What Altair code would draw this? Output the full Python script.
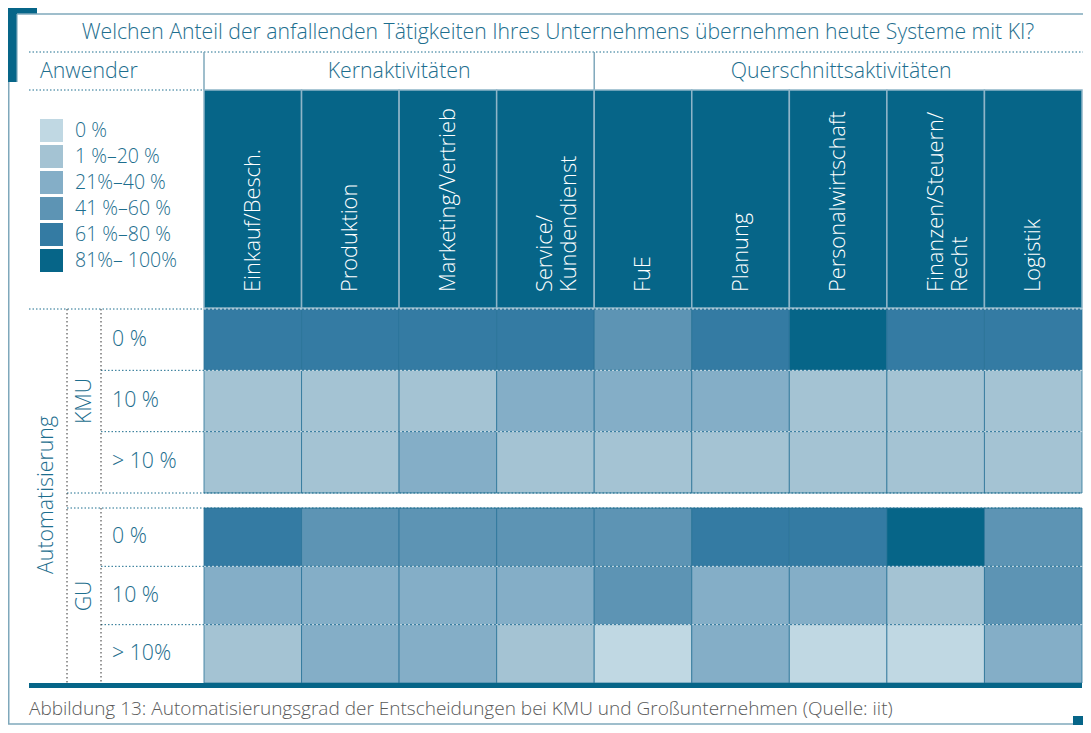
import altair as alt
import pandas as pd

# ---------------- data ----------------
TITLE = "Welchen Anteil der anfallenden Tätigkeiten Ihres Unternehmens übernehmen heute Systeme mit KI?"
CAPTION = "Abbildung 13: Automatisierungsgrad der Entscheidungen bei KMU und Großunternehmen (Quelle: iit)"
HEAD_LEFT = "Anwender"
groups = ["Kernaktivitäten", "Querschnittsaktivitäten"]
side_title = "Automatisierung"
companies = ["KMU", "GU"]

columns = ["Einkauf/Besch.", "Produktion", "Marketing/Vertrieb", "Service/Kundendienst", "FuE",
           "Planung", "Personalwirtschaft", "Finanzen/Steuern/Recht", "Logistik"]
column_labels = ["Einkauf/Besch.", "Produktion", "Marketing/Vertrieb", "Service/\nKundendienst", "FuE",
                 "Planung", "Personalwirtschaft", "Finanzen/Steuern/\nRecht", "Logistik"]

rows_kmu = ["0 %", "10 %", "> 10 %"]
rows_gu = ["0 %", "10 %", "> 10%"]

levels = ["0 %", "1 %–20 %", "21%–40 %", "41 %–60 %", "61 %–80 %", "81%– 100%"]
level_colors = ["#c0d8e3", "#a4c3d3", "#84aec7", "#5d94b4", "#347ba3", "#066588"]

# level index (0..5) per row, per column
kmu_levels = [
    [4, 4, 4, 4, 3, 4, 5, 4, 4],
    [1, 1, 1, 2, 2, 2, 1, 1, 1],
    [1, 1, 2, 1, 1, 1, 1, 1, 1],
]
gu_levels = [
    [4, 3, 3, 3, 3, 4, 4, 5, 3],
    [2, 2, 2, 2, 3, 2, 2, 1, 3],
    [1, 2, 2, 1, 0, 2, 0, 0, 2],
]

# ---------------- styling ----------------
TEAL = "#1d6e8e"
DARK = "#066588"
LINE = "#7fa8bb"
FONT = "Open Sans"
FW = 300
FS = 21.3
W, H = 1075, 717

def P(v):  # page pixel -> chart pixel
    return v - 8

X_LEFT, X_RIGHT = P(204), P(1082)
KMU_RANGE = [P(309), P(493)]
GU_RANGE = [P(508), P(683)]

def cells_df(rows, lv):
    recs = []
    for r, row in enumerate(rows):
        for c, col in enumerate(columns):
            recs.append({"row": row, "col": col, "level": levels[lv[r][c]]})
    return pd.DataFrame(recs)

x_enc = alt.X("col:N", scale=alt.Scale(domain=columns, range=[X_LEFT, X_RIGHT], paddingInner=0, paddingOuter=0), axis=None)
color_enc = alt.Color("level:N", scale=alt.Scale(domain=levels, range=level_colors),
                      legend=alt.Legend(orient="none", legendX=P(40), legendY=P(119), title=None,
                                        symbolType="square", symbolSize=529, symbolStrokeWidth=0,
                                        symbolOpacity=1, labelFontSize=19.5, labelFont=FONT,
                                        labelFontWeight=FW, labelColor=TEAL, labelOffset=12,
                                        rowPadding=3, padding=0))

one = pd.DataFrame({"k": [0]})

def rule(x1, x2, y1, y2, color=LINE, width=1.0, dash=None, opacity=1.0):
    kw = dict(color=color, strokeWidth=width, opacity=opacity)
    if dash:
        kw["strokeDash"] = dash
    return alt.Chart(one).mark_rule(**kw).encode(
        x=alt.value(x1), x2=alt.value(x2), y=alt.value(y1), y2=alt.value(y2))

def box(x1, x2, y1, y2, color):
    return alt.Chart(one).mark_rect(color=color).encode(
        x=alt.value(x1), x2=alt.value(x2), y=alt.value(y1), y2=alt.value(y2))

def label(text, x, y, size=FS, color=TEAL, align="left", angle=0):
    return alt.Chart(pd.DataFrame({"t": [text]})).mark_text(
        font=FONT, fontWeight=FW, fontSize=size, color=color, align=align,
        baseline="middle", angle=angle).encode(text="t:N", x=alt.value(x), y=alt.value(y))

layers = []

# frame decoration
layers.append(box(0, 29, 0, P(82), DARK))
layers.append(box(P(17), 29, P(14), P(82), "white"))
layers.append(rule(P(17), W, P(14), P(14), LINE, 1.5))
layers.append(rule(P(17), P(17), P(14), P(82), LINE, 1.2))
layers.append(rule(0.75, 0.75, P(82), P(724), LINE, 1.5))
layers.append(rule(0, W - 10, P(724), P(724), LINE, 1.5))
layers.append(box(W - 10, W, P(716), H, DARK))

# title and header texts
layers.append(label(TITLE, P(558), P(33), size=21.2, align="center"))
layers.append(rule(P(29), W, P(52), P(52), TEAL, 1, [1.5, 2]))
layers.append(label(HEAD_LEFT, P(40), P(72)))
layers.append(rule(X_LEFT, X_LEFT, P(52), P(90), LINE, 1.5))
mid = X_LEFT + (X_RIGHT - X_LEFT) * 4 / 9
layers.append(rule(mid, mid, P(52), P(90), LINE, 1.5))
layers.append(label(groups[0], (X_LEFT + mid) / 2, P(72), align="center"))
layers.append(label(groups[1], (mid + X_RIGHT) / 2 + 3, P(72), align="center"))
layers.append(rule(P(29), X_LEFT, P(90), P(90), TEAL, 1, [1.5, 2]))

# column header band
head_df = pd.DataFrame({"col": columns, "label": column_labels})
layers.append(alt.Chart(head_df).mark_rect(color=DARK, stroke="#8fb5c8", strokeWidth=1.5).encode(
    x=x_enc, y=alt.value(P(90)), y2=alt.value(P(308))))
layers.append(alt.Chart(head_df).mark_text(
    font=FONT, fontWeight=FW, fontSize=21.8, color="white", angle=270, align="left",
    baseline="middle", lineBreak="\n", lineHeight=24).encode(
    x=x_enc, y=alt.value(P(292)), text="label:N"))

# heatmap cells
def heat(rows, lv, rng):
    y_enc = alt.Y("row:N", scale=alt.Scale(domain=rows, range=rng, paddingInner=0, paddingOuter=0), axis=None)
    df = cells_df(rows, lv)
    cells = alt.Chart(df).mark_rect(stroke="#2a7398", strokeWidth=0.8).encode(
        x=x_enc, y=y_enc, color=color_enc)
    lab = alt.Chart(pd.DataFrame({"row": rows})).mark_text(
        font=FONT, fontWeight=FW, fontSize=FS, color=TEAL, align="left", baseline="middle").encode(
        x=alt.value(P(112)), y=y_enc, text="row:N")
    return [cells, lab]

layers += heat(rows_kmu, kmu_levels, KMU_RANGE)
layers += heat(rows_gu, gu_levels, GU_RANGE)

# row separators
for rng in (KMU_RANGE, GU_RANGE):
    step = (rng[1] - rng[0]) / 3
    for i in (1, 2):
        yy = rng[0] + step * i
        layers.append(rule(P(101), X_LEFT, yy, yy, TEAL, 1, [1.5, 2]))
        layers.append(rule(X_LEFT, X_RIGHT, yy, yy, "white", 1, [2, 2], 0.8))
layers.append(rule(P(29), X_LEFT, P(309), P(309), TEAL, 1, [1.5, 2]))
layers.append(rule(X_LEFT, X_RIGHT, P(309), P(309), "white", 1, [2, 2], 0.8))
for yy in (P(493), P(508)):
    layers.append(rule(P(67), X_RIGHT, yy, yy, TEAL, 1, [1.5, 2]))

# left dotted verticals
layers.append(rule(P(67), P(67), P(309), P(683), "#333333", 1, [1.5, 2.5]))
layers.append(rule(P(101), P(101), P(309), P(493), "#333333", 1, [1.5, 2.5]))
layers.append(rule(P(101), P(101), P(508), P(683), "#333333", 1, [1.5, 2.5]))

# side labels
layers.append(label(side_title, P(47), P(495), align="center", angle=270))
layers.append(label(companies[0], P(85), P(401), align="center", angle=270))
layers.append(label(companies[1], P(85), P(596), align="center", angle=270))

# bottom thick line and caption
layers.append(rule(P(29), X_RIGHT, P(685.5), P(685.5), DARK, 5))
layers.append(label(CAPTION, P(29), P(709), size=19, color="#5a5a5a"))

chart = alt.layer(*layers).resolve_scale(y="independent").properties(
    width=W, height=H, autosize=alt.AutoSizeParams(type="none"), padding=0
).configure_view(stroke=None)

chart.save("out.html", embed_options={"renderer": "svg", "actions": False})
